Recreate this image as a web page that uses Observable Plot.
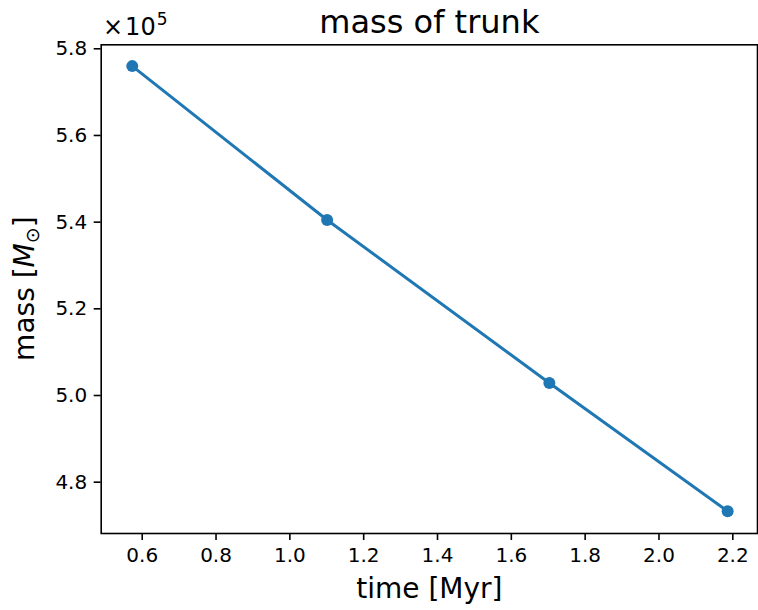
<!DOCTYPE html>
<html><head><meta charset="utf-8">
<script src="https://cdn.jsdelivr.net/npm/d3@7"></script>
<script src="https://cdn.jsdelivr.net/npm/@observablehq/plot@0.6"></script>
<style>html,body{margin:0;padding:0;background:#fff}#chart svg{display:block}</style>
</head><body><div id="chart"></div>
<script>
// data
const times = [0.573, 1.101, 1.703, 2.186];          // Myr
const masses = [576000, 540500, 502900, 473300];     // solar masses
const xTicks = [0.6, 0.8, 1.0, 1.2, 1.4, 1.6, 1.8, 2.0, 2.2];
const yTicks = [4.8, 5.0, 5.2, 5.4, 5.6, 5.8];       // in units of 1e5
const titleText = "mass of trunk";
const xLabelText = "time [Myr]";
const yScaleFactor = 1e5;

const data = times.map((t, i) => ({t, m: masses[i] / yScaleFactor}));

const W = 758, H = 610, ML = 100.7, MT = 44.3, MR = 1, MB = 77;
const blue = "#1f77b4";

const chart = Plot.plot({
  width: W, height: H,
  marginLeft: ML, marginTop: MT, marginRight: MR, marginBottom: MB,
  style: {fontFamily: "DejaVu Sans", color: "black", background: "white"},
  x: {domain: [0.4889, 2.2669]},
  y: {domain: [4.6816, 5.8092]},
  marks: [
    Plot.axisX(xTicks, {tickSize: 7, tickPadding: 7, fontSize: 20, strokeWidth: 1.6, tickFormat: d => d.toFixed(1), label: null}),
    Plot.axisY(yTicks, {tickSize: 7, tickPadding: 7, fontSize: 20, strokeWidth: 1.6, tickFormat: d => d.toFixed(1), label: null}),
    Plot.line(data, {x: "t", y: "m", stroke: blue, strokeWidth: 3}),
    Plot.dot(data, {x: "t", y: "m", r: 6, fill: blue, stroke: null}),
    Plot.frame({stroke: "black", strokeWidth: 1.6}),
    Plot.text([titleText], {text: d => d, frameAnchor: "top", lineAnchor: "bottom", dy: -12.3, fontSize: 32, fill: "black"}),
    Plot.text([xLabelText], {text: d => d, frameAnchor: "bottom", lineAnchor: "bottom", dy: 64, fontSize: 28, fill: "black"})
  ]
});
document.getElementById("chart").append(chart);

const svg = d3.select(chart);
// y-axis label: mass [M_⊙]
const cy = (MT + (H - MB)) / 2;
const yl = svg.append("text")
  .attr("transform", `translate(34,${cy}) rotate(-90)`)
  .attr("text-anchor", "middle")
  .attr("font-size", 28)
  .attr("fill", "black");
yl.append("tspan").text("mass [");
yl.append("tspan").attr("font-style", "italic").text("M");
yl.append("tspan").attr("font-size", 19).attr("dy", 5).text("⊙");
yl.append("tspan").attr("dy", -5).text("]");

// offset text ×10^5
const ot = svg.append("text")
  .attr("x", 103).attr("y", 34.5)
  .attr("text-anchor", "start")
  .style("font-size", "24px")
  .attr("fill", "black");
ot.append("tspan").text("×");
ot.append("tspan").attr("dx", 2).text("10");
ot.append("tspan").style("font-size", "17px").attr("dx", 1).attr("dy", -10).text("5");
</script>
</body></html>
